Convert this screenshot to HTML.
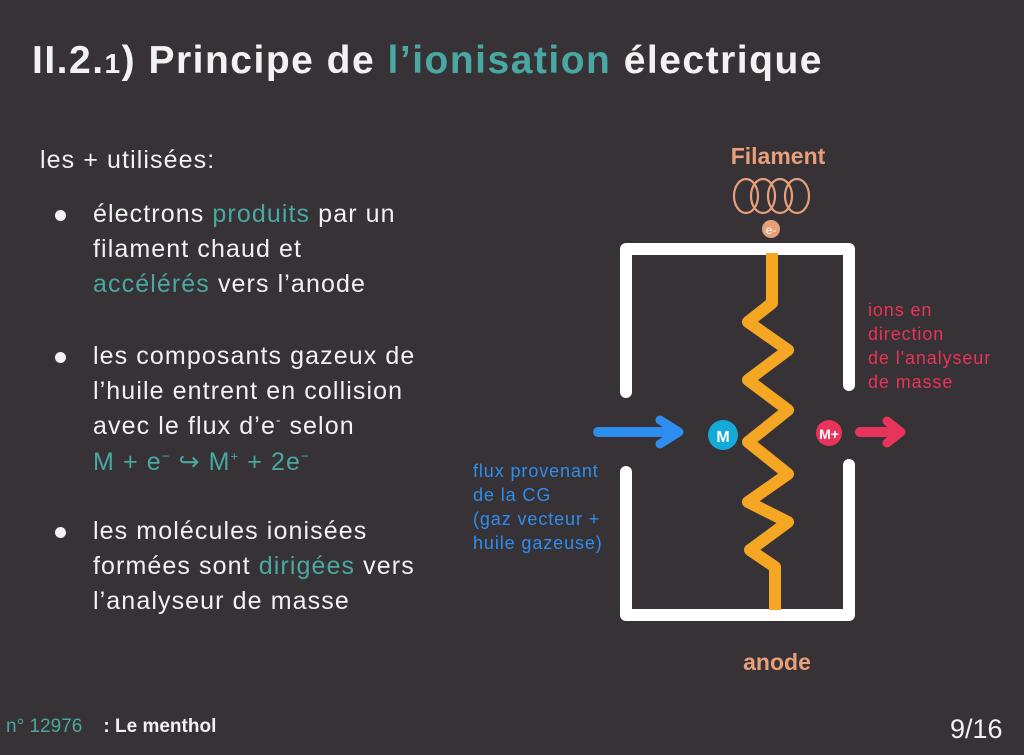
<!DOCTYPE html>
<html><head><meta charset="utf-8"><style>
body{margin:0;width:1024px;height:755px;background:#363236;overflow:hidden;position:relative;font-family:"Liberation Sans",sans-serif;color:#f2f2f2}
.t{position:absolute;white-space:nowrap}
.b{font-size:25px;letter-spacing:1.1px}
.c{color:#4aa8a2}
.dot{position:absolute;width:11px;height:11px;border-radius:50%;background:#f2f2f2;left:55px}
.s{font-size:18px;letter-spacing:0.9px;line-height:24px}
</style></head><body>
<div class="t" style="left:32px;top:39px;font-size:39px;letter-spacing:1.5px;font-weight:bold">II.2.<span style="font-size:28px">1</span>) Principe de <span class="c">l’ionisation</span> électrique</div>
<div class="t b" style="left:40px;top:146px">les + utilisées:</div>
<div class="dot" style="top:210px"></div>
<div class="t b" style="left:93px;top:200px">électrons <span class="c">produits</span> par un</div>
<div class="t b" style="left:93px;top:235px">filament chaud et</div>
<div class="t b" style="left:93px;top:270px"><span class="c">accélérés</span> vers l’anode</div>
<div class="dot" style="top:352px"></div>
<div class="t b" style="left:93px;top:342px">les composants gazeux de</div>
<div class="t b" style="left:93px;top:377px">l’huile entrent en collision</div>
<div class="t b" style="left:93px;top:412px">avec le flux d’e<sup style="font-size:13px">-</sup> selon</div>
<div class="t b c" style="left:93px;top:447px">M + e<sup style="font-size:13px">−</sup> ↪ M<sup style="font-size:13px">+</sup> + 2e<sup style="font-size:13px">−</sup></div>
<div class="dot" style="top:527px"></div>
<div class="t b" style="left:93px;top:517px">les molécules ionisées</div>
<div class="t b" style="left:93px;top:552px">formées sont <span class="c">dirigées</span> vers</div>
<div class="t b" style="left:93px;top:587px">l’analyseur de masse</div>
<div class="t" style="left:6px;top:716px;font-size:19px"><span class="c">n° 12976</span>&nbsp;&nbsp;&nbsp; <b>: Le menthol</b></div>
<div class="t" style="left:950px;top:714px;font-size:27px">9/16</div>

<svg width="1024" height="755" style="position:absolute;left:0;top:0">
<g fill="none" stroke="#ffffff" stroke-width="12" stroke-linejoin="round" stroke-linecap="round">
<path d="M626 392 V249 H849 V385"/>
<path d="M626 472 V615 H849 V465"/>
</g>
<path d="M772 253 V303 L748 322 L788 350 L748 380 L788 410 L748 442 L788 474 L748 502 L788 522 L750 550 L775 567 V610" fill="none" stroke="#f5a623" stroke-width="12" stroke-linejoin="round"/>
<g fill="none" stroke="#e8a07a" stroke-width="2.2">
<ellipse cx="746" cy="196" rx="12" ry="17"/><ellipse cx="763" cy="196" rx="12" ry="17"/><ellipse cx="780" cy="196" rx="12" ry="17"/><ellipse cx="797" cy="196" rx="12" ry="17"/>
</g>
<circle cx="771" cy="229" r="9" fill="#e8a07a"/>
<text x="771" y="234" font-size="12" fill="#fff" text-anchor="middle" font-family="Liberation Sans">e-</text>
<text x="778" y="164" font-size="23" fill="#e8a07a" text-anchor="middle" font-family="Liberation Sans" font-weight="bold">Filament</text>
<text x="777" y="670" font-size="23" fill="#e8a07a" text-anchor="middle" font-family="Liberation Sans" font-weight="bold">anode</text>
<path d="M598 432 H668" stroke="#2e8ef0" stroke-width="10" stroke-linecap="round"/>
<path d="M660 420 L679 432 L660 444" fill="none" stroke="#2e8ef0" stroke-width="9" stroke-linecap="round" stroke-linejoin="round"/>
<circle cx="723" cy="435" r="15" fill="#13a9d8"/>
<text x="723" y="442" font-size="16" fill="#fff" text-anchor="middle" font-family="Liberation Sans" font-weight="bold">M</text>
<circle cx="829" cy="433" r="13" fill="#e8335a"/>
<text x="829" y="439" font-size="14" fill="#fff" text-anchor="middle" font-family="Liberation Sans" font-weight="bold">M+</text>
<path d="M860 432 H892" stroke="#e8335a" stroke-width="10" stroke-linecap="round"/>
<path d="M887 421 L901 432 L887 443" fill="none" stroke="#e8335a" stroke-width="9" stroke-linecap="round" stroke-linejoin="round"/>
</svg>
<div class="t s" style="left:868px;top:298px;color:#e8335a">ions en<br>direction<br>de l'analyseur<br>de masse</div>
<div class="t s" style="left:473px;top:459px;color:#2e8ef0">flux provenant<br>de la CG<br>(gaz vecteur +<br>huile gazeuse)</div>
</body></html>
